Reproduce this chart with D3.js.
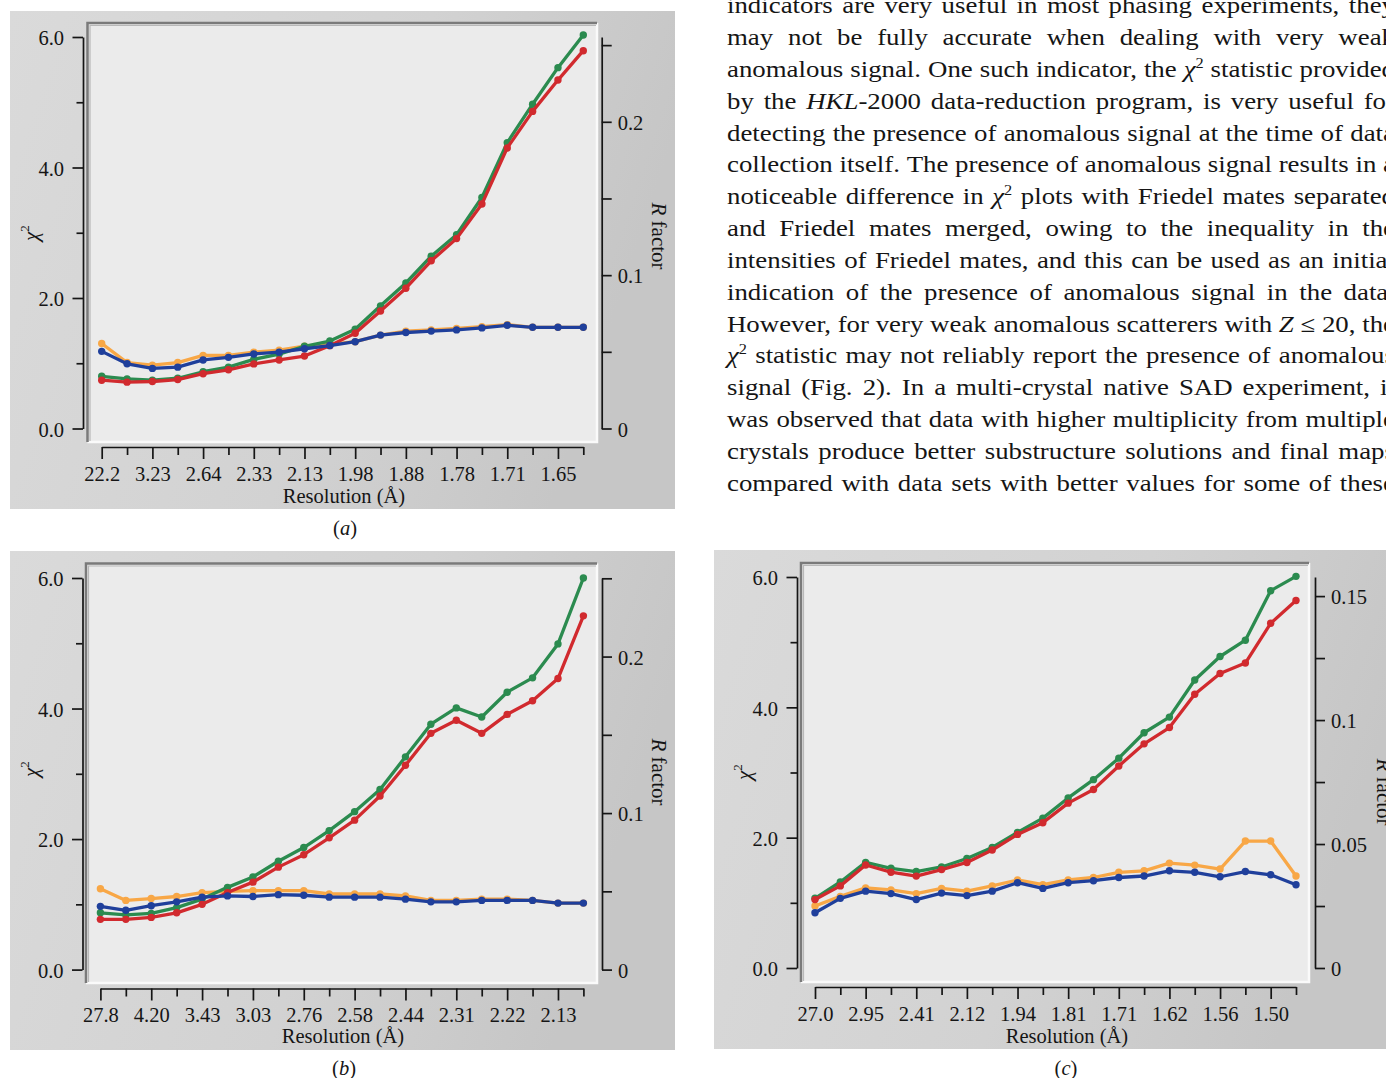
<!DOCTYPE html>
<html><head><meta charset="utf-8">
<script src="https://cdn.jsdelivr.net/npm/d3@7"></script>
<style>html,body{margin:0;padding:0;background:#fff;overflow:hidden}</style>
</head><body>
<svg id="fig" width="1386" height="1078"></svg>
<script>
// ---------------- DATA ----------------
// 20 resolution shells per data set; every other shell is labelled on the x axis
const shellCount = 20;
const resLabelsA = ["22.2","3.23","2.64","2.33","2.13","1.98","1.88","1.78","1.71","1.65"];
const resLabelsB = ["27.8","4.20","3.43","3.03","2.76","2.58","2.44","2.31","2.22","2.13"];
const resLabelsC = ["27.0","2.95","2.41","2.12","1.94","1.81","1.71","1.62","1.56","1.50"];

// chi^2 (left axis)
const chiGreenA = [0.80,0.76,0.74,0.77,0.87,0.94,1.06,1.14,1.26,1.34,1.52,1.88,2.23,2.64,2.97,3.54,4.38,4.97,5.53,6.03];
const chiRedA   = [0.74,0.71,0.72,0.75,0.84,0.90,0.99,1.05,1.11,1.27,1.46,1.80,2.15,2.57,2.91,3.44,4.30,4.86,5.34,5.79];
const chiGreenB = [0.87,0.84,0.86,0.95,1.08,1.26,1.42,1.66,1.87,2.13,2.42,2.76,3.26,3.76,4.01,3.87,4.25,4.47,4.99,6.00];
const chiRedB   = [0.77,0.77,0.80,0.87,1.00,1.18,1.34,1.57,1.76,2.02,2.29,2.66,3.13,3.62,3.82,3.62,3.91,4.12,4.46,5.42];
const chiGreenC = [1.07,1.32,1.62,1.53,1.48,1.55,1.68,1.85,2.08,2.30,2.61,2.89,3.22,3.61,3.85,4.42,4.78,5.03,5.79,6.01];
const chiRedC   = [1.05,1.26,1.58,1.47,1.41,1.51,1.62,1.81,2.05,2.23,2.53,2.74,3.10,3.44,3.69,4.20,4.52,4.68,5.29,5.64];

// R factor (right axis)
const rOrangeA = [0.0554,0.0430,0.0413,0.0430,0.0477,0.0477,0.0498,0.0511,0.0537,0.0549,0.0566,0.0609,0.0635,0.0643,0.0652,0.0664,0.0677,0.0660,0.0660,0.0660];
const rBlueA   = [0.0503,0.0422,0.0392,0.0400,0.0447,0.0464,0.0486,0.0498,0.0520,0.0541,0.0566,0.0609,0.0626,0.0635,0.0643,0.0656,0.0673,0.0660,0.0660,0.0660];
const rOrangeB = [0.0517,0.0442,0.0454,0.0467,0.0492,0.0500,0.0504,0.0504,0.0504,0.0483,0.0483,0.0483,0.0471,0.0442,0.0442,0.0450,0.0450,0.0442,0.0425,0.0425];
const rBlueB   = [0.0404,0.0379,0.0408,0.0433,0.0463,0.0471,0.0467,0.0479,0.0475,0.0463,0.0463,0.0463,0.0450,0.0433,0.0433,0.0442,0.0442,0.0442,0.0425,0.0425];
const rOrangeC = [0.0250,0.0289,0.0323,0.0315,0.0300,0.0321,0.0310,0.0331,0.0355,0.0336,0.0355,0.0365,0.0386,0.0392,0.0423,0.0415,0.0399,0.0512,0.0512,0.0371];
const rBlueC   = [0.0223,0.0281,0.0310,0.0300,0.0276,0.0302,0.0292,0.0310,0.0344,0.0321,0.0344,0.0352,0.0365,0.0371,0.0392,0.0386,0.0368,0.0389,0.0376,0.0336];

// axis ticks
const chiMajorTicks = [0,2,4,6];
const chiMinorTicks = [1,3,5];
const rTicksAB = [0,0.05,0.1,0.15,0.2,0.25];
const rLabelsAB = [0,0.1,0.2];
const rTicksC = [0,0.025,0.05,0.075,0.1,0.125,0.15];
const rLabelsC = [0,0.05,0.1,0.15];

const panelCaptions = ["a","b","c"];

const bodyLines = [
 "indicators are very useful in most phasing experiments, they",
 "may not be fully accurate when dealing with very weak",
 "anomalous signal. One such indicator, the χ^2 statistic provided",
 "by the _HKL_-2000 data-reduction program, is very useful for",
 "detecting the presence of anomalous signal at the time of data",
 "collection itself. The presence of anomalous signal results in a",
 "noticeable difference in χ^2 plots with Friedel mates separated",
 "and Friedel mates merged, owing to the inequality in the",
 "intensities of Friedel mates, and this can be used as an initial",
 "indication of the presence of anomalous signal in the data.",
 "However, for very weak anomalous scatterers with _Z_ ≤ 20, the",
 "χ^2 statistic may not reliably report the presence of anomalous",
 "signal (Fig. 2). In a multi-crystal native SAD experiment, it",
 "was observed that data with higher multiplicity from multiple",
 "crystals produce better substructure solutions and final maps",
 "compared with data sets with better values for some of these"
];

// ---------------- STYLE / LAYOUT ----------------
const FONT = "'Liberation Serif','Times New Roman',Times,serif";
const INK = "#151515";
const COL = {green:"#2b8b4f", red:"#d12a2e", blue:"#1f3f9b", orange:"#f8a746"};

const panels = [
 {bg:{x:10,y:11,w:665,h:498}, frame:{l:87.5,t:23,r:597,b:442}, yAxisX:83, y0:428.5, y6:37,
  xAxisY:447, x0:101.7, x19:583.3, rAxisX:601.7, rMax:0.2553, rTicks:rTicksAB, rLabels:rLabelsAB,
  chiLab:[38,233], rLab:[652,236], resLab:[344,503], cap:[345,535],
  res:resLabelsA, green:chiGreenA, red:chiRedA, orange:rOrangeA, blue:rBlueA},
 {bg:{x:10,y:551,w:665,h:499}, frame:{l:86,t:563.5,r:597,b:983}, yAxisX:82.5, y0:969.6, y6:578,
  xAxisY:988.5, x0:100.4, x19:583.4, rAxisX:602, rMax:0.2502, rTicks:rTicksAB, rLabels:rLabelsAB,
  chiLab:[38,769], rLab:[652,772], resLab:[343,1043], cap:[344,1075],
  res:resLabelsB, green:chiGreenB, red:chiRedB, orange:rOrangeB, blue:rBlueB},
 {bg:{x:714,y:550,w:690,h:499}, frame:{l:801,t:563,r:1309,b:982}, yAxisX:797, y0:968, y6:577,
  xAxisY:987, x0:815, x19:1296, rAxisX:1315, rMax:0.1577, rTicks:rTicksC, rLabels:rLabelsC,
  chiLab:[751,772], rLab:[1377,792], resLab:[1067,1043], cap:[1066,1075],
  res:resLabelsC, green:chiGreenC, red:chiRedC, orange:rOrangeC, blue:rBlueC}
];

const svg = d3.select("#fig");
svg.append("rect").attr("width",1386).attr("height",1078).attr("fill","#fff");
const defs = svg.append("defs");
const grad = defs.append("linearGradient").attr("id","bgGrad").attr("x1",0).attr("y1",0).attr("x2",1).attr("y2",0.25);
grad.append("stop").attr("offset",0).attr("stop-color","#dadada");
grad.append("stop").attr("offset",0.6).attr("stop-color","#d2d2d2");
grad.append("stop").attr("offset",1).attr("stop-color","#c6c6c6");

function styleAxis(g){
  g.attr("font-family",FONT).attr("font-size",20.5).attr("color",INK);
  g.selectAll(".domain").attr("stroke-width",1.7);
  g.selectAll(".tick line").attr("stroke-width",1.7);
}

panels.forEach((p,pi)=>{
  const g = svg.append("g");
  g.append("rect").attr("x",p.bg.x).attr("y",p.bg.y).attr("width",p.bg.w).attr("height",p.bg.h).attr("fill","url(#bgGrad)");
  const f = p.frame;
  g.append("rect").attr("x",f.l).attr("y",f.t).attr("width",f.r-f.l).attr("height",f.b-f.t).attr("fill","#ebebeb");
  g.append("path").attr("d",`M${f.l},${f.b}H${f.r}V${f.t}`).attr("fill","none").attr("stroke","#fafafa").attr("stroke-width",2.5);
  g.append("path").attr("d",`M${f.l},${f.b}V${f.t}H${f.r}`).attr("fill","none").attr("stroke","#7a7a7a").attr("stroke-width",2.5);
  g.append("path").attr("d",`M${f.l+2.5},${f.b-1}V${f.t+2.5}H${f.r-1}`).attr("fill","none").attr("stroke","#b8b8b8").attr("stroke-width",1.2);

  const x = d3.scaleLinear().domain([0,shellCount-1]).range([p.x0,p.x19]);
  const yChi = d3.scaleLinear().domain([0,6]).range([p.y0,p.y6]);
  const yR = d3.scaleLinear().domain([0,p.rMax]).range([p.y0,p.y6]);

  // left axis
  const la = g.append("g").attr("transform",`translate(${p.yAxisX},0)`)
    .call(d3.axisLeft(yChi).tickValues(chiMajorTicks).tickFormat(d3.format(".1f")).tickSize(10.5).tickSizeOuter(0).tickPadding(8.5));
  styleAxis(la); la.selectAll("text").attr("dy","0.38em");
  const lm = g.append("g").attr("transform",`translate(${p.yAxisX},0)`)
    .call(d3.axisLeft(yChi).tickValues(chiMinorTicks).tickFormat("").tickSize(6.5).tickSizeOuter(0));
  lm.select(".domain").remove(); styleAxis(lm);

  // right axis
  const isLab = d => p.rLabels.some(v=>Math.abs(v-d)<1e-9);
  const ra = g.append("g").attr("transform",`translate(${p.rAxisX},0)`)
    .call(d3.axisRight(yR).tickValues(p.rTicks).tickFormat(d=>isLab(d)?String(d):"").tickSize(10).tickSizeOuter(0).tickPadding(6));
  styleAxis(ra); ra.selectAll("text").attr("dy","0.38em");

  // bottom axis
  const xa = g.append("g").attr("transform",`translate(0,${p.xAxisY})`)
    .call(d3.axisBottom(x).tickValues(d3.range(0,shellCount,2)).tickFormat((d,i)=>p.res[i]).tickSize(12).tickSizeOuter(0).tickPadding(7));
  styleAxis(xa);
  const xm = g.append("g").attr("transform",`translate(0,${p.xAxisY})`)
    .call(d3.axisBottom(x).tickValues(d3.range(1,shellCount,2)).tickFormat("").tickSize(8).tickSizeOuter(0));
  xm.select(".domain").remove(); styleAxis(xm);

  // series
  const series = [
    {vals:p.orange, y:yR, c:COL.orange},
    {vals:p.green, y:yChi, c:COL.green},
    {vals:p.red, y:yChi, c:COL.red},
    {vals:p.blue, y:yR, c:COL.blue}
  ];
  series.forEach(s=>{
    const line = d3.line().x((d,i)=>x(i)).y(d=>s.y(d));
    g.append("path").attr("d",line(s.vals)).attr("fill","none").attr("stroke",s.c).attr("stroke-width",3.3).attr("stroke-linejoin","round");
    g.selectAll(null).data(s.vals).enter().append("circle")
      .attr("cx",(d,i)=>x(i)).attr("cy",d=>s.y(d)).attr("r",3.7).attr("fill",s.c);
  });

  // labels
  const chi = g.append("text").attr("transform",`translate(${p.chiLab[0]},${p.chiLab[1]}) rotate(-90)`)
    .attr("text-anchor","middle").attr("font-family",FONT).attr("font-size",21).attr("fill",INK);
  chi.append("tspan").attr("font-style","italic").text("χ");
  chi.append("tspan").attr("font-size",13).attr("dy",-9).text("2");

  const rl = g.append("text").attr("transform",`translate(${p.rLab[0]},${p.rLab[1]}) rotate(90)`)
    .attr("text-anchor","middle").attr("font-family",FONT).attr("font-size",21).attr("fill",INK);
  rl.append("tspan").attr("font-style","italic").text("R");
  rl.append("tspan").text(" factor");

  g.append("text").attr("x",p.resLab[0]).attr("y",p.resLab[1]).attr("text-anchor","middle")
    .attr("font-family",FONT).attr("font-size",20.5).attr("fill",INK).text("Resolution (Å)");

  const cp = g.append("text").attr("x",p.cap[0]).attr("y",p.cap[1]).attr("text-anchor","middle")
    .attr("font-family",FONT).attr("font-size",20.5).attr("fill",INK);
  cp.append("tspan").text("(");
  cp.append("tspan").attr("font-style","italic").text(panelCaptions[pi]);
  cp.append("tspan").text(")");
});

// ---------------- BODY TEXT (justified) ----------------
const bodyFont = 23;
const tg = svg.append("g").attr("font-family",FONT).attr("font-size",bodyFont).attr("fill",INK);
function addSegs(t, word){
  const parts = word.split(/(_[^_]+_|\^2|χ)/).filter(s=>s.length);
  parts.forEach(s=>{
    if (s === "χ") t.append("tspan").attr("font-style","italic").text("χ");
    else if (s === "^2") t.append("tspan").attr("font-size",14).attr("dy",-9).text("2");
    else if (s[0]==="_") t.append("tspan").attr("font-style","italic").text(s.slice(1,-1));
    else t.append("tspan").text(s);
  });
}
const lineData = bodyLines.map((ln,li)=>{
  const yb = 13.3 + li*31.83;
  const els = ln.split(" ").map(w=>{
    const t = tg.append("text").attr("y",yb);
    addSegs(t,w);
    return {t, w:t.node().getComputedTextLength()};
  });
  return els;
});
const sp = 0.25*bodyFont;
const nat = lineData.map(els=>d3.sum(els,e=>e.w)+sp*(els.length-1));
const maxNat = d3.max(nat);
const colW = 668;
const sx = colW/maxNat;
tg.attr("transform",`translate(727,0) scale(${sx},1)`);
lineData.forEach(els=>{
  const sum = d3.sum(els,e=>e.w);
  const gap = (maxNat-sum)/(els.length-1);
  let xx = 0;
  els.forEach(e=>{ e.t.attr("x",xx); xx += e.w+gap; });
});
</script>
</body></html>
